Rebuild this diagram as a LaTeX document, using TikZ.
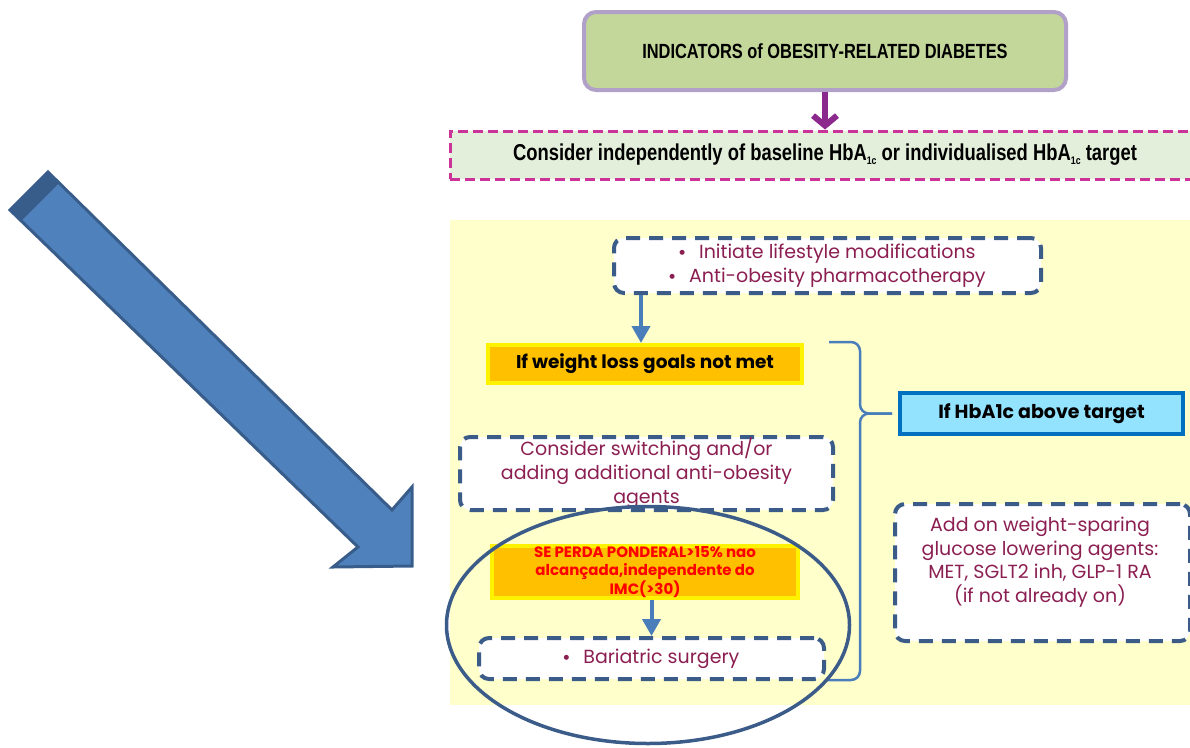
\documentclass[tikz,border=0pt]{standalone}
\usepackage{fontspec}
\usepackage{xcolor}
\usepackage{tikz}
\usetikzlibrary{arrows.meta}
\usetikzlibrary{shapes.geometric}
\setmainfont{Liberation Sans}
\newfontfamily\gothicfont{Poppins}
\newfontfamily\condfont[FakeStretch=0.8]{Liberation Sans}
\newfontfamily\symfont{DejaVu Sans}
\definecolor{oliveFill}{HTML}{C4D79B}
\definecolor{lavender}{HTML}{B1A0C7}
\definecolor{plum}{HTML}{8B2A8C}
\definecolor{magentaDash}{HTML}{CC3399}
\definecolor{paleGreen}{HTML}{E3EFDB}
\definecolor{paleYellow}{HTML}{FFFFCC}
\definecolor{navyDash}{HTML}{3B5B88}
\definecolor{maroonText}{HTML}{8C1F52}
\definecolor{steelBlue}{HTML}{4A7EBB}
\definecolor{amber}{HTML}{FFC000}
\definecolor{skyFill}{HTML}{93E3FF}
\definecolor{royalBlue}{HTML}{0070C0}
\definecolor{bigArrowFill}{HTML}{4F81BD}
\definecolor{bigArrowDraw}{HTML}{385D8A}
\newcommand{\hbsub}{\raisebox{-4pt}{\fontsize{11}{11}\selectfont 1c}}
\newcommand{\bulletItem}[1]{\raisebox{4pt}{\symfont\fontsize{6.5}{6.5}\selectfont ●}\hspace{14pt}#1}
\tikzset{%
  indicatorBox/.style={rectangle, rounded corners=12pt, draw=lavender, fill=oliveFill, line width=4pt, align=center,
    font=\condfont\bfseries\fontsize{20.5}{24}\selectfont},% entry point
  considerBox/.style={rectangle, draw=magentaDash, fill=paleGreen, line width=3pt, dash pattern=on 10pt off 5pt, align=center,
    font=\condfont\bfseries\fontsize{23}{26}\selectfont},
  % ----------------
  % treatment steps
  % ----------------
  stepBox/.style={rectangle, rounded corners=10pt, draw=navyDash, fill=white, line width=4pt, dash pattern=on 14pt off 9pt,
    align=center, text=maroonText, font=\gothicfont\fontsize{19}{24}\selectfont},
  stepText/.style={align=center, text=maroonText, font=\gothicfont\fontsize{19}{23.5}\selectfont},
  goalBox/.style={rectangle, draw=yellow, fill=amber, line width=4pt, align=center,
    font=\gothicfont\bfseries\fontsize{18.5}{21}\selectfont},% condition
  targetBox/.style={rectangle, draw=royalBlue, fill=skyFill, line width=4pt, align=center,
    font=\gothicfont\bfseries\fontsize{19}{21}\selectfont},
  %
  plumArrow/.style={draw=plum, line width=6pt, -{Straight Barb[length=10pt,width=24pt]}},
  flowArrow/.style={draw=steelBlue, line width=4pt, -{Triangle[length=17pt,width=18pt]}},
  braceLine/.style={draw=steelBlue, line width=2.5pt, rounded corners=9pt},
  highlightRing/.style={ellipse, draw=navyDash, line width=3.5pt, inner sep=0pt},
  bigArrow/.style={fill=bigArrowFill, draw=bigArrowDraw, line width=3pt, line join=miter}}

\begin{document}
\begin{tikzpicture}[x=1pt,y=-1pt]
  \clip (0,0) rectangle (1190,747);
  % yellow treatment area
  \fill[paleYellow] (450,220) rectangle (1190,705);

  \node[indicatorBox, minimum width=482pt, minimum height=78pt] (indicators) at (825,51) {INDICATORS of OBESITY-RELATED DIABETES};
  \node[considerBox, minimum width=750pt, minimum height=48pt] (consider) at (825,155) {Consider independently of baseline HbA\hbsub{} or individualised HbA\hbsub{} target};
  \draw[plumArrow] (indicators) -- (consider);

  \node[stepBox, minimum width=427pt, minimum height=55pt, inner ysep=0pt] (lifestyle) at (827.5,265.5) {\bulletItem{Initiate lifestyle modifications}\\\bulletItem{Anti-obesity pharmacotherapy}};
  \node[goalBox, minimum width=314pt, minimum height=38pt] (weight) at (645,364) {If weight loss goals not met};
  \node[targetBox, minimum width=283pt, minimum height=41pt] (hba1c) at (1041.5,413.5) {If HbA1c above target};
  \node[stepBox, minimum width=373pt, minimum height=73pt, inner ysep=0pt] (switch) at (646.5,473.5) {Consider switching and/or\\adding additional anti-obesity\\agents};
  \node[goalBox, minimum width=306pt, minimum height=48pt, inner ysep=0pt, text=red,
    font=\gothicfont\bfseries\fontsize{15}{18.5}\selectfont] (thresh) at (645,572) {SE PERDA PONDERAL>15\% nao\\alcançada,independente do\\IMC(>30)};
  \node[stepBox, minimum width=345pt, minimum height=41pt] (bariatric) at (651.5,658.5) {\bulletItem{Bariatric surgery}};
  \node[stepBox, minimum width=295pt, minimum height=137pt] (addOn) at (1042.5,572.5) {};
  \node[stepText] (addOnText) at (1040,562) {Add on weight-sparing\\glucose lowering agents:\\MET, SGLT2 inh, GLP-1 RA\\(if not already on)};

  \draw[flowArrow] ([xshift=-4pt]weight.north |- lifestyle.south) -- ([xshift=-4pt]weight.north);
  \draw[flowArrow] (thresh.south -| bariatric.north) -- (bariatric.north);

  \coordinate (braceTop) at (829,342);
  \coordinate (braceTip) at ([xshift=-6pt]hba1c.west);
  \coordinate (braceBottom) at (828,680);
  \draw[braceLine] (braceTop) -- (860,342) -- (braceTip -| 860,0) -- (braceTip);
  \draw[braceLine] (braceTip) -- (braceTip -| 860,0) -- (860,680) -- (braceBottom);

  \node[highlightRing, minimum width=403pt, minimum height=237pt] (ring) at (648,625) {};

  % big pointer on the left
  \draw[bigArrow] (10,210) -- (48,172) -- (392,510) -- (412,487) -- (412,566) -- (333,567) -- (358,547) -- cycle;
  \fill[bigArrowDraw] (10,210) -- (48,172) -- (59,183) -- (21,221) -- cycle;
\end{tikzpicture}
\end{document}
